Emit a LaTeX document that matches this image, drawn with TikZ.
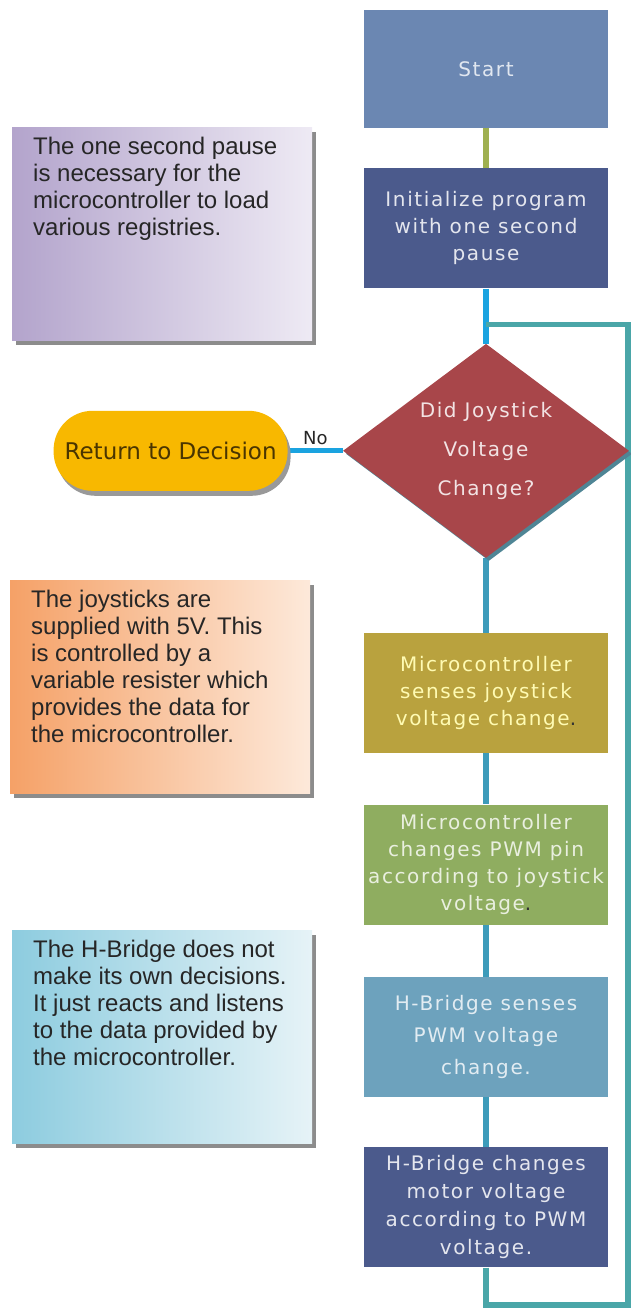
\documentclass[tikz,border=0pt]{standalone}
\usepackage{fontspec}
\setmainfont{Liberation Sans}
\newfontfamily\flowfont[LetterSpace=8]{DejaVu Sans}
\newfontfamily\plainflow{DejaVu Sans}
\usepackage{xcolor}
\usetikzlibrary{positioning, shapes.geometric, shadows, backgrounds}

\definecolor{startblue}{HTML}{6B87B2}
\definecolor{navybox}{HTML}{4B5A8C}
\definecolor{decred}{HTML}{A8464A}
\definecolor{decshade}{HTML}{4F8595}
\definecolor{oliveb}{HTML}{B9A23E}
\definecolor{greenb}{HTML}{8FAD60}
\definecolor{tealb}{HTML}{6DA2BD}
\definecolor{retyellow}{HTML}{F8B800}
\definecolor{rettext}{HTML}{4A3500}
\definecolor{linkblue}{HTML}{1AA3E0}
\definecolor{linkteal}{HTML}{3D9BBA}
\definecolor{loopteal}{HTML}{4AA6A8}
\definecolor{linkolive}{HTML}{9FB050}
\definecolor{purpleA}{HTML}{B3A4CC}
\definecolor{purpleB}{HTML}{EEEAF4}
\definecolor{orangeA}{HTML}{F5A167}
\definecolor{orangeB}{HTML}{FDE9DA}
\definecolor{cyanA}{HTML}{8DCCDF}
\definecolor{cyanB}{HTML}{E6F3F7}

\newcommand{\notetext}[1]{\parbox[t][193pt][t]{258pt}{\raggedright #1}}

\begin{document}
\begin{tikzpicture}[x=1pt, y=-1pt,
  stepbox/.style={rectangle, minimum width=244pt, minimum height=120pt,
              inner sep=3pt, align=center, fill=#1,
              font=\flowfont\fontsize{20}{27}\selectfont},
  decision/.style={diamond, aspect=1.34, minimum width=286pt, minimum height=214pt,
              inner sep=0pt, fill=decred, align=center, text=decred!15!white,
              font=\flowfont\fontsize{20}{39}\selectfont,
              drop shadow={shadow xshift=3pt, shadow yshift=-3pt, fill=decshade, opacity=1}},
  retbox/.style={rectangle, rounded corners=39pt, minimum width=234pt, minimum height=80pt,
              fill=retyellow, text=rettext,
              font=\plainflow\fontsize{23}{27}\selectfont,
              drop shadow={shadow xshift=3pt, shadow yshift=-5pt, fill=black!40, opacity=1}},
  note/.style={rectangle, anchor=north west, inner xsep=21pt, inner ysep=10pt,
              minimum width=300pt, text=black!85, font=\fontsize{24}{27}\selectfont,
              drop shadow={shadow xshift=4pt, shadow yshift=-5pt, fill=black!45, opacity=1}},
  link/.style={line width=5.5pt, color=linkteal},
]

% Flow column
\node[stepbox=startblue, minimum height=118pt, text=startblue!20!white] (start) at (486,69) {Start};
\node[stepbox=navybox, below=40pt of start, text=navybox!15!white] (init)
  {Initialize program\\with one second\\pause};
\node[decision, below=55pt of init] (dec) {Did Joystick\\Voltage\\Change?};
\node[stepbox=oliveb, below=75pt of dec, text=yellow!30!white] (senses)
  {Microcontroller\\senses joystick\\voltage change{\color{black!80}.}};
\node[stepbox=greenb, below=51pt of senses, text=greenb!20!white] (pwm)
  {Microcontroller\\changes PWM pin\\according to joystick\\voltage{\color{black!80}.}};
\node[stepbox=tealb, below=52pt of pwm, text=tealb!20!white,
  font=\flowfont\fontsize{20}{32}\selectfont] (hsense)
  {H-Bridge senses\\PWM voltage\\change.};
\node[stepbox=navybox, below=50pt of hsense, text=navybox!15!white,
  font=\flowfont\fontsize{20}{28}\selectfont] (hdrive)
  {H-Bridge changes\\motor voltage\\according to PWM\\voltage.};

% Side branch
\node[retbox, left=55pt of dec] (ret) {Return to Decision};

% Notes
\node[note, left color=purpleA, right color=purpleB] (notepause) at (12,127)
  {\notetext{The one second pause\\is necessary for the\\microcontroller to load\\various registries.}};
\node[note, left color=orangeA, right color=orangeB] (notejoy) at (10,580)
  {\notetext{The joysticks are\\supplied with 5V. This\\is controlled by a\\variable resister which\\provides the data for\\the microcontroller.}};
\node[note, left color=cyanA, right color=cyanB] (notehb) at (12,930)
  {\notetext{The H-Bridge does not\\make its own decisions.\\It just reacts and listens\\to the data provided by\\the microcontroller.}};

% Loop points
\coordinate[below=36pt of init] (loopjoin);
\coordinate (loopbr) at (628,1305);

% Connectors
\begin{scope}[on background layer]
\draw[link, linkolive] (start) -- (init);
\draw[link, linkblue] (init) -- (dec);
\draw[link, linkblue, line width=5pt] (dec) -- (ret)
  node[midway, above, text=black!85, font=\plainflow\fontsize{18}{20}\selectfont] {No};
\draw[link] (dec) -- (senses);
\draw[link] (senses) -- (pwm);
\draw[link] (pwm) -- (hsense);
\draw[link] (hsense) -- (hdrive);
\draw[link, loopteal] (hdrive.south) |- (loopbr) -- (loopjoin -| loopbr) -- (loopjoin);
\end{scope}

\useasboundingbox (0,0) rectangle (629,1309);
\end{tikzpicture}
\end{document}
